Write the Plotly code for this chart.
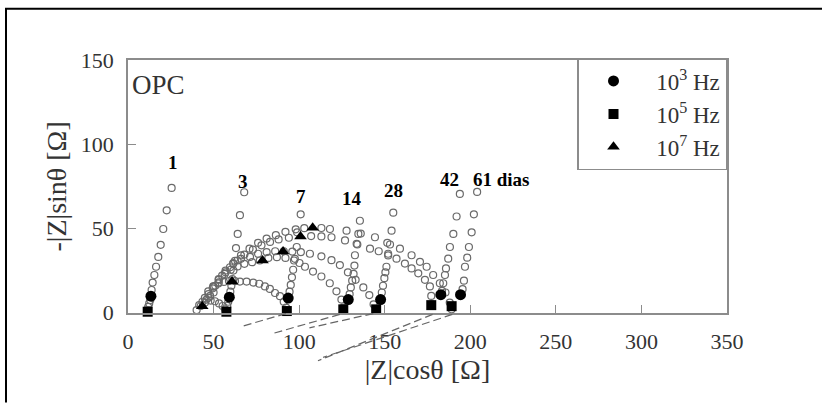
import plotly.graph_objects as go

# Impedance (Nyquist) curves of OPC paste at several curing ages.
# Each list pair is |Z|cos(theta) and -|Z|sin(theta) in ohms for the open markers.
re_1 = [11.2, 11.8, 12.4, 13.0, 13.8, 14.4, 15.4, 16.4, 17.7, 19.1, 20.6, 22.6, 25.5]
im_1 = [1.5, 3.5, 5.5, 7.5, 13.5, 17.9, 22.4, 27.3, 33.1, 40.3, 49.7, 60.8, 74.1]

re_3 = [40.1, 41.6, 43.5, 45.9, 48.3, 50.8, 53.2, 55.3, 56.8, 58.0, 58.6, 59.8, 60.4, 61.0,
        61.6, 62.5, 63.1, 64.1, 65.4, 67.9]
im_3 = [1.6, 4.5, 6.5, 7.8, 7.2, 6.8, 5.5, 4.0, 2.0, 4.0, 6.5, 12.5, 16.0, 20.0,
        25.0, 30.8, 38.4, 46.8, 57.9, 71.5]

re_7 = [42.5, 44.9, 46.9, 49.8, 52.8, 56.0, 59.0, 62.5, 65.4, 69.3, 73.2, 76.7, 80.0, 82.9,
        85.9, 88.8, 91.0, 92.4, 94.4, 95.1, 95.8, 96.5, 97.5, 98.6, 98.8, 100.9]
im_7 = [4.0, 8.8, 12.7, 15.6, 17.4, 18.3, 18.8, 18.8, 18.5, 18.5, 17.9, 17.2, 15.6, 14.1,
        11.7, 9.8, 6.5, 3.0, 12.5, 16.5, 21.0, 25.5, 32.0, 39.0, 47.7, 58.4]

re_14 = [45.0, 47.0, 50.0, 53.0, 56.5, 60.0, 64.0, 68.0, 72.5, 77.0, 82.0, 87.0, 92.0, 97.0,
         100.2, 103.4, 108.1, 113.0, 117.9, 121.8, 124.7, 125.8, 129.5, 130.2, 131.0, 131.8,
         132.3, 132.6, 133.6, 134.6, 135.5]
im_14 = [6.0, 11.0, 15.5, 19.5, 23.0, 25.5, 27.5, 29.0, 30.0, 31.0, 32.5, 33.0, 32.5, 31.0,
         29.5, 27.3, 24.4, 21.5, 17.5, 12.7, 7.8, 3.0, 11.0, 15.0, 19.0, 23.0,
         28.0, 34.1, 40.9, 46.8, 54.6]

re_28 = [47.0, 49.5, 53.0, 57.0, 61.5, 66.0, 71.3, 76.0, 81.0, 86.0, 91.0, 96.0, 101.0, 106.3,
         113.0, 118.9, 123.8, 128.5, 133.0, 137.5, 141.0, 143.5, 144.9, 148.3, 149.0, 149.8,
         150.4, 151.0, 152.0, 153.1, 154.0, 155.0]
im_28 = [9.0, 14.5, 20.0, 25.0, 29.0, 32.0, 33.1, 35.0, 36.0, 36.5, 36.5, 36.3, 36.0, 35.0,
         33.5, 31.2, 28.3, 24.0, 19.5, 15.0, 10.5, 5.0, 1.5, 12.0, 16.0, 20.5,
         24.0, 27.3, 34.0, 40.5, 48.7, 59.4]

re_42 = [48.0, 51.0, 55.0, 59.6, 64.0, 68.0, 73.0, 78.0, 83.0, 88.0, 94.0, 107.0, 113.0,
         118.9, 126.8, 134.0, 141.4, 146.5, 152.0, 156.9, 161.8, 165.7, 169.6, 173.5, 176.4,
         177.2, 177.4, 183.5, 184.2, 185.2, 185.8, 187.1, 188.1, 190.1, 192.0, 193.9]
im_42 = [10.0, 16.0, 22.0, 27.0, 31.0, 34.5, 37.5, 40.0, 42.0, 43.5, 44.5, 45.5, 45.3,
         44.8, 42.9, 40.5, 38.0, 36.5, 35.0, 32.1, 29.2, 26.3, 23.4, 19.5, 15.6,
         10.0, 5.0, 13.0, 17.5, 22.4, 26.3, 32.1, 39.0, 46.8, 57.1, 70.5]

re_61 = [50.0, 53.0, 57.0, 61.5, 66.0, 71.0, 76.0, 81.0, 86.4, 92.0, 98.0, 103.0, 113.0,
         118.0, 127.7, 136.0, 144.3, 151.5, 158.9, 165.7, 170.6, 174.5, 178.3, 182.2, 185.5,
         188.0, 189.1, 195.5, 196.3, 196.9, 198.2, 199.2, 200.8, 202.1, 204.0]
im_61 = [12.0, 18.0, 24.0, 29.5, 34.0, 38.0, 41.5, 44.0, 46.0, 48.0, 49.5, 50.2, 50.3,
         49.7, 48.7, 47.0, 44.8, 41.5, 38.0, 34.1, 30.2, 27.3, 22.4, 17.5, 12.0,
         6.0, 2.0, 14.0, 19.0, 27.3, 32.7, 39.0, 47.7, 58.4, 71.7]

age_labels = ["1", "3", "7", "14", "28", "42", "61 dias"]

# Characteristic frequencies marked on every curve
f3_re = [13.4, 59.2, 93.6, 128.7, 147.6, 182.8, 194.3]
f3_im = [9.8, 9.2, 8.7, 7.8, 7.8, 10.7, 10.7]
f5_re = [11.5, 57.5, 92.8, 125.8, 145.0, 177.2, 189.1]
f5_im = [0.6, 0.6, 1.0, 2.0, 2.0, 4.5, 3.9]
f7_re = [43.4, 60.8, 78.6, 90.6, 100.8, 107.9]
f7_im = [3.9, 18.6, 31.0, 36.3, 45.3, 50.4]

legend_names = ["10<sup>3</sup> Hz", "10<sup>5</sup> Hz", "10<sup>7</sup> Hz"]

# Guide lines drawn below the real axis (start and end points)
guide_re = [[92.3, 67.0], [123.8, 84.0], [143.3, 106.0], [178.0, 111.0], [189.5, 114.0]]
guide_im = [[-0.5, -8.0], [-1.0, -12.5], [-0.5, -9.0], [-1.0, -28.5], [-1.0, -26.5]]

x_ticks = [0, 50, 100, 150, 200, 250, 300, 350]
y_ticks = [0, 50, 100, 150]

# ---- geometry -------------------------------------------------------------
W, H = 822, 403
ML, MR, MT, MB = 128, 95, 60, 20
PW, PH = W - ML - MR, H - MT - MB
X_RANGE = [0, 350]
Y_RANGE = [0, 150]
AXIS_BOTTOM_PX = 316.7          # pixel row of the real axis
y_dom0 = (H - MB - AXIS_BOTTOM_PX) / PH
px_per_unit = (AXIS_BOTTOM_PX - MT) / (Y_RANGE[1] - Y_RANGE[0])
y2_min = Y_RANGE[0] - (H - MB - AXIS_BOTTOM_PX) / px_per_unit


def paper_x(px):
    return (px - ML) / PW


def paper_y(py):
    return (H - MB - py) / PH


SERIF = "Liberation Serif"
AXIS_GREY = "#8c8c8c"
TEXT_GREY = "#333333"
OPEN_GREY = "#6a6a6a"

fig = go.Figure()

curves = [(re_1, im_1), (re_3, im_3), (re_7, im_7), (re_14, im_14),
          (re_28, im_28), (re_42, im_42), (re_61, im_61)]
for xs, ys in curves:
    fig.add_trace(go.Scatter(
        x=xs, y=ys, mode="markers", showlegend=False, cliponaxis=False,
        marker=dict(symbol="circle-open", size=7, color=OPEN_GREY, line=dict(width=1.2)),
        hoverinfo="skip"))

for (xs, ys), name, sym, size in [((f3_re, f3_im), legend_names[0], "circle", 11),
                                  ((f5_re, f5_im), legend_names[1], "square", 10),
                                  ((f7_re, f7_im), legend_names[2], "triangle-up", 11)]:
    fig.add_trace(go.Scatter(
        x=xs, y=ys, mode="markers", name="\u2004" + name, cliponaxis=False,
        marker=dict(symbol=sym, size=size, color="black")))

# dashed guides live on an overlay axis that reaches below the real axis
for gx, gy in zip(guide_re, guide_im):
    fig.add_trace(go.Scatter(
        x=gx, y=gy, mode="lines", xaxis="x2", yaxis="y2", showlegend=False,
        line=dict(color="#666666", width=1.2, dash="8px,4px"), hoverinfo="skip"))

# age labels above the top of each low-frequency spike
label_shift = [(1, 25, "center"), (-1, 11, "center"), (0, 18, "center"), (-8, 22, "center"),
               (0, 22, "center"), (-10, 14, "center"), (-6, 12, "left")]
for (xs, ys), text, (dx, dy, anchor) in zip(curves, age_labels, label_shift):
    fig.add_annotation(x=xs[-1], y=ys[-1], text="<b>" + text + "</b>", showarrow=False,
                       xanchor=anchor, yanchor="middle", xshift=dx, yshift=dy,
                       font=dict(family=SERIF, size=19, color="black"))

fig.add_annotation(xref="paper", yref="paper", x=0, y=1, text="OPC", showarrow=False,
                   xanchor="left", yanchor="top", xshift=2, yshift=-8,
                   font=dict(family=SERIF, size=27, color=TEXT_GREY))

# outer frame of the figure: left and top edges
frame_line = dict(color="black", width=2)
fig.add_shape(type="line", xref="paper", yref="paper", x0=paper_x(6), x1=paper_x(6),
              y0=paper_y(H + 5), y1=paper_y(8), line=frame_line, layer="above")
fig.add_shape(type="line", xref="paper", yref="paper", x0=paper_x(5), x1=paper_x(W + 5),
              y0=paper_y(8), y1=paper_y(8), line=frame_line, layer="above")

axis_common = dict(showgrid=False, zeroline=False, showline=True, linecolor=AXIS_GREY,
                   linewidth=1.5, mirror=True, ticks="inside", ticklen=8, tickwidth=1.2,
                   tickcolor=AXIS_GREY, tickfont=dict(family=SERIF, size=22, color=TEXT_GREY))

fig.update_layout(
    width=W, height=H, margin=dict(l=ML, r=MR, t=MT, b=MB),
    paper_bgcolor="white", plot_bgcolor="rgba(0,0,0,0)",
    xaxis=dict(range=X_RANGE, tickvals=x_ticks, ticklabelstandoff=8,
               title=dict(text="|Z|cos\u03b8 [\u03a9]", standoff=2,
                          font=dict(family=SERIF, size=28, color=TEXT_GREY)),
               **axis_common),
    yaxis=dict(range=Y_RANGE, tickvals=y_ticks, domain=[y_dom0, 1], ticklabelstandoff=8,
               title=dict(text="-|Z|sin\u03b8 [\u03a9]", standoff=6,
                          font=dict(family=SERIF, size=28, color=TEXT_GREY)),
               **axis_common),
    xaxis2=dict(range=X_RANGE, overlaying="x", anchor="y2", visible=False),
    yaxis2=dict(range=[y2_min, Y_RANGE[1]], domain=[0, 1], anchor="x2", visible=False),
    legend=dict(x=1, xanchor="right", y=paper_y(58), yanchor="top",
                bgcolor="white", bordercolor=AXIS_GREY, borderwidth=1.5,
                font=dict(family=SERIF, size=23, color=TEXT_GREY),
                itemwidth=60, tracegroupgap=0),
    showlegend=True,
)

fig.write_html("out.html")
